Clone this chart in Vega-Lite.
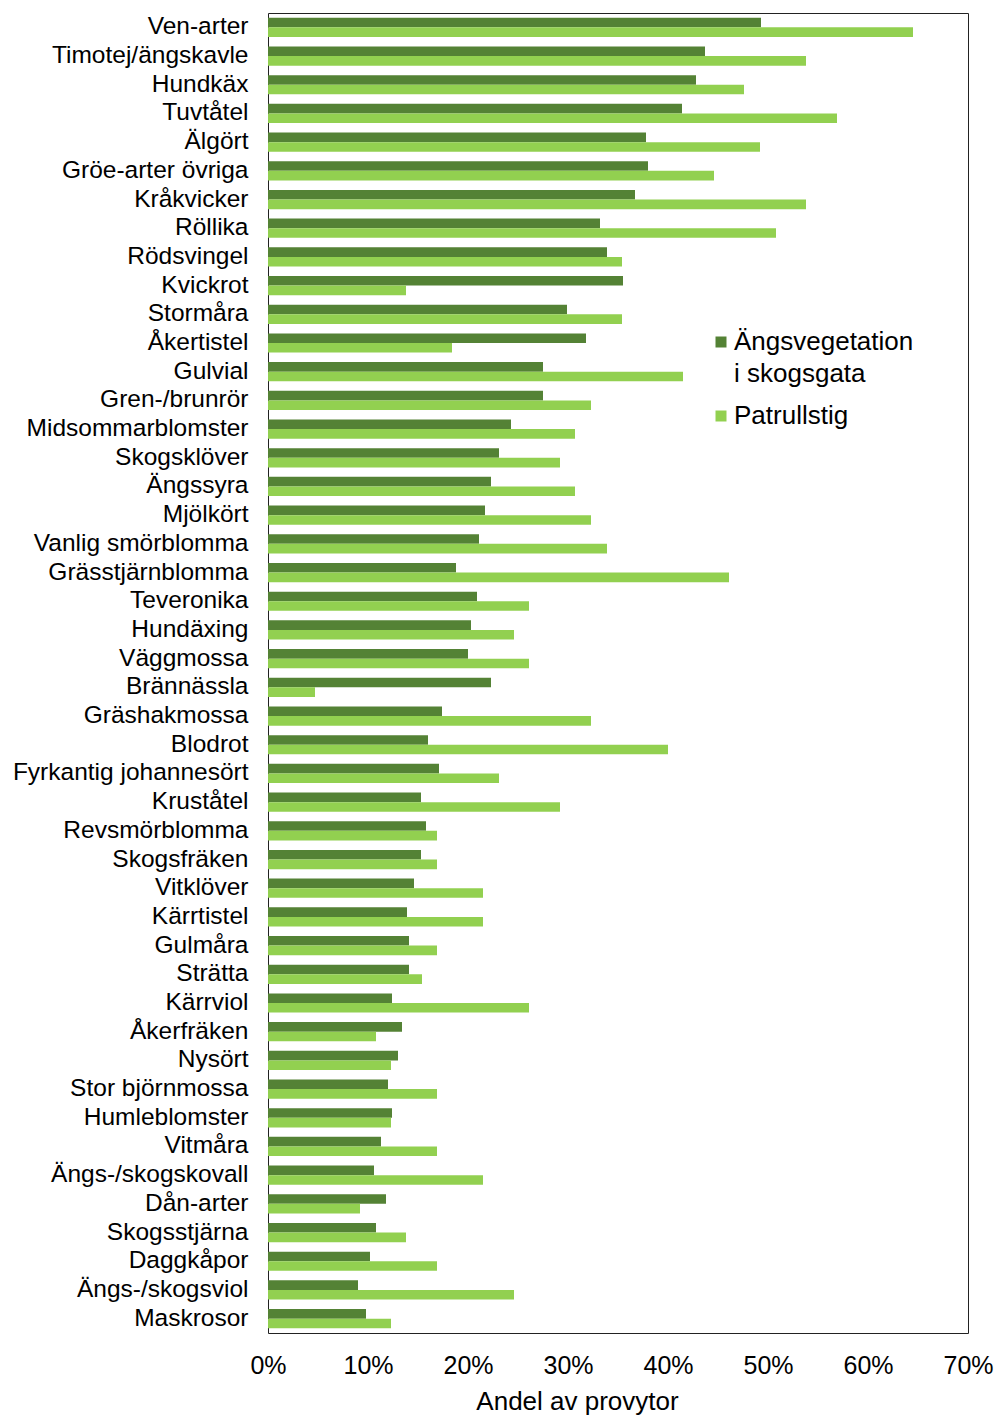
{
  "$schema": "https://vega.github.io/schema/vega-lite/v6.json",
  "width": 700,
  "height": 1320,
  "autosize": {"type": "none"},
  "padding": {"left": 268, "top": 13, "right": 29, "bottom": 85},
  "background": "white",
  "config": {
    "view": {"stroke": "#222222", "strokeWidth": 1},
    "font": "Liberation Sans",
    "style": {"guide-label": {"lineHeight": 32}}
  },
  "data": {
    "values": [
      {"art": "Ven-arter", "serie": "Ängsvegetation i skogsgata", "andel": 49.3},
      {"art": "Ven-arter", "serie": "Patrullstig", "andel": 64.5},
      {"art": "Timotej/ängskavle", "serie": "Ängsvegetation i skogsgata", "andel": 43.7},
      {"art": "Timotej/ängskavle", "serie": "Patrullstig", "andel": 53.8},
      {"art": "Hundkäx", "serie": "Ängsvegetation i skogsgata", "andel": 42.8},
      {"art": "Hundkäx", "serie": "Patrullstig", "andel": 47.6},
      {"art": "Tuvtåtel", "serie": "Ängsvegetation i skogsgata", "andel": 41.4},
      {"art": "Tuvtåtel", "serie": "Patrullstig", "andel": 56.9},
      {"art": "Älgört", "serie": "Ängsvegetation i skogsgata", "andel": 37.8},
      {"art": "Älgört", "serie": "Patrullstig", "andel": 49.2},
      {"art": "Gröe-arter övriga", "serie": "Ängsvegetation i skogsgata", "andel": 38.0},
      {"art": "Gröe-arter övriga", "serie": "Patrullstig", "andel": 44.6},
      {"art": "Kråkvicker", "serie": "Ängsvegetation i skogsgata", "andel": 36.7},
      {"art": "Kråkvicker", "serie": "Patrullstig", "andel": 53.8},
      {"art": "Röllika", "serie": "Ängsvegetation i skogsgata", "andel": 33.2},
      {"art": "Röllika", "serie": "Patrullstig", "andel": 50.8},
      {"art": "Rödsvingel", "serie": "Ängsvegetation i skogsgata", "andel": 33.9},
      {"art": "Rödsvingel", "serie": "Patrullstig", "andel": 35.4},
      {"art": "Kvickrot", "serie": "Ängsvegetation i skogsgata", "andel": 35.5},
      {"art": "Kvickrot", "serie": "Patrullstig", "andel": 13.8},
      {"art": "Stormåra", "serie": "Ängsvegetation i skogsgata", "andel": 29.9},
      {"art": "Stormåra", "serie": "Patrullstig", "andel": 35.4},
      {"art": "Åkertistel", "serie": "Ängsvegetation i skogsgata", "andel": 31.8},
      {"art": "Åkertistel", "serie": "Patrullstig", "andel": 18.4},
      {"art": "Gulvial", "serie": "Ängsvegetation i skogsgata", "andel": 27.5},
      {"art": "Gulvial", "serie": "Patrullstig", "andel": 41.5},
      {"art": "Gren-/brunrör", "serie": "Ängsvegetation i skogsgata", "andel": 27.5},
      {"art": "Gren-/brunrör", "serie": "Patrullstig", "andel": 32.3},
      {"art": "Midsommarblomster", "serie": "Ängsvegetation i skogsgata", "andel": 24.3},
      {"art": "Midsommarblomster", "serie": "Patrullstig", "andel": 30.7},
      {"art": "Skogsklöver", "serie": "Ängsvegetation i skogsgata", "andel": 23.1},
      {"art": "Skogsklöver", "serie": "Patrullstig", "andel": 29.2},
      {"art": "Ängssyra", "serie": "Ängsvegetation i skogsgata", "andel": 22.3},
      {"art": "Ängssyra", "serie": "Patrullstig", "andel": 30.7},
      {"art": "Mjölkört", "serie": "Ängsvegetation i skogsgata", "andel": 21.7},
      {"art": "Mjölkört", "serie": "Patrullstig", "andel": 32.3},
      {"art": "Vanlig smörblomma", "serie": "Ängsvegetation i skogsgata", "andel": 21.1},
      {"art": "Vanlig smörblomma", "serie": "Patrullstig", "andel": 33.9},
      {"art": "Grässtjärnblomma", "serie": "Ängsvegetation i skogsgata", "andel": 18.8},
      {"art": "Grässtjärnblomma", "serie": "Patrullstig", "andel": 46.1},
      {"art": "Teveronika", "serie": "Ängsvegetation i skogsgata", "andel": 20.9},
      {"art": "Teveronika", "serie": "Patrullstig", "andel": 26.1},
      {"art": "Hundäxing", "serie": "Ängsvegetation i skogsgata", "andel": 20.3},
      {"art": "Hundäxing", "serie": "Patrullstig", "andel": 24.6},
      {"art": "Väggmossa", "serie": "Ängsvegetation i skogsgata", "andel": 20.0},
      {"art": "Väggmossa", "serie": "Patrullstig", "andel": 26.1},
      {"art": "Brännässla", "serie": "Ängsvegetation i skogsgata", "andel": 22.3},
      {"art": "Brännässla", "serie": "Patrullstig", "andel": 4.7},
      {"art": "Gräshakmossa", "serie": "Ängsvegetation i skogsgata", "andel": 17.4},
      {"art": "Gräshakmossa", "serie": "Patrullstig", "andel": 32.3},
      {"art": "Blodrot", "serie": "Ängsvegetation i skogsgata", "andel": 16.0},
      {"art": "Blodrot", "serie": "Patrullstig", "andel": 40.0},
      {"art": "Fyrkantig johannesört", "serie": "Ängsvegetation i skogsgata", "andel": 17.1},
      {"art": "Fyrkantig johannesört", "serie": "Patrullstig", "andel": 23.1},
      {"art": "Kruståtel", "serie": "Ängsvegetation i skogsgata", "andel": 15.3},
      {"art": "Kruståtel", "serie": "Patrullstig", "andel": 29.2},
      {"art": "Revsmörblomma", "serie": "Ängsvegetation i skogsgata", "andel": 15.8},
      {"art": "Revsmörblomma", "serie": "Patrullstig", "andel": 16.9},
      {"art": "Skogsfräken", "serie": "Ängsvegetation i skogsgata", "andel": 15.3},
      {"art": "Skogsfräken", "serie": "Patrullstig", "andel": 16.9},
      {"art": "Vitklöver", "serie": "Ängsvegetation i skogsgata", "andel": 14.6},
      {"art": "Vitklöver", "serie": "Patrullstig", "andel": 21.5},
      {"art": "Kärrtistel", "serie": "Ängsvegetation i skogsgata", "andel": 13.9},
      {"art": "Kärrtistel", "serie": "Patrullstig", "andel": 21.5},
      {"art": "Gulmåra", "serie": "Ängsvegetation i skogsgata", "andel": 14.1},
      {"art": "Gulmåra", "serie": "Patrullstig", "andel": 16.9},
      {"art": "Strätta", "serie": "Ängsvegetation i skogsgata", "andel": 14.1},
      {"art": "Strätta", "serie": "Patrullstig", "andel": 15.4},
      {"art": "Kärrviol", "serie": "Ängsvegetation i skogsgata", "andel": 12.4},
      {"art": "Kärrviol", "serie": "Patrullstig", "andel": 26.1},
      {"art": "Åkerfräken", "serie": "Ängsvegetation i skogsgata", "andel": 13.4},
      {"art": "Åkerfräken", "serie": "Patrullstig", "andel": 10.8},
      {"art": "Nysört", "serie": "Ängsvegetation i skogsgata", "andel": 13.0},
      {"art": "Nysört", "serie": "Patrullstig", "andel": 12.3},
      {"art": "Stor björnmossa", "serie": "Ängsvegetation i skogsgata", "andel": 12.0},
      {"art": "Stor björnmossa", "serie": "Patrullstig", "andel": 16.9},
      {"art": "Humleblomster", "serie": "Ängsvegetation i skogsgata", "andel": 12.4},
      {"art": "Humleblomster", "serie": "Patrullstig", "andel": 12.3},
      {"art": "Vitmåra", "serie": "Ängsvegetation i skogsgata", "andel": 11.3},
      {"art": "Vitmåra", "serie": "Patrullstig", "andel": 16.9},
      {"art": "Ängs-/skogskovall", "serie": "Ängsvegetation i skogsgata", "andel": 10.6},
      {"art": "Ängs-/skogskovall", "serie": "Patrullstig", "andel": 21.5},
      {"art": "Dån-arter", "serie": "Ängsvegetation i skogsgata", "andel": 11.8},
      {"art": "Dån-arter", "serie": "Patrullstig", "andel": 9.2},
      {"art": "Skogsstjärna", "serie": "Ängsvegetation i skogsgata", "andel": 10.8},
      {"art": "Skogsstjärna", "serie": "Patrullstig", "andel": 13.8},
      {"art": "Daggkåpor", "serie": "Ängsvegetation i skogsgata", "andel": 10.2},
      {"art": "Daggkåpor", "serie": "Patrullstig", "andel": 16.9},
      {"art": "Ängs-/skogsviol", "serie": "Ängsvegetation i skogsgata", "andel": 9.0},
      {"art": "Ängs-/skogsviol", "serie": "Patrullstig", "andel": 24.6},
      {"art": "Maskrosor", "serie": "Ängsvegetation i skogsgata", "andel": 9.8},
      {"art": "Maskrosor", "serie": "Patrullstig", "andel": 12.3}
    ]
  },
  "mark": {"type": "bar"},
  "encoding": {
    "y": {
      "field": "art",
      "type": "nominal",
      "sort": null,
      "scale": {"paddingInner": 0.33, "paddingOuter": 0.165},
      "axis": {
        "title": null,
        "ticks": false,
        "domain": false,
        "labelFontSize": 24.5,
        "labelPadding": 20,
        "labelColor": "#000000",
        "labelLimit": 400
      }
    },
    "yOffset": {
      "field": "serie",
      "type": "nominal",
      "sort": ["Ängsvegetation i skogsgata", "Patrullstig"]
    },
    "x": {
      "field": "andel",
      "type": "quantitative",
      "scale": {"domain": [0, 70]},
      "axis": {
        "values": [0, 10, 20, 30, 40, 50, 60, 70],
        "labelExpr": "datum.value + '%'",
        "labelFlush": false,
        "grid": false,
        "ticks": false,
        "domain": false,
        "labelFontSize": 25,
        "labelPadding": 20,
        "labelColor": "#000000",
        "title": "Andel av provytor",
        "titleFontSize": 26,
        "titleFontWeight": "normal",
        "titleColor": "#000000",
        "titlePadding": 10,
        "titleX": 309
      }
    },
    "color": {
      "field": "serie",
      "type": "nominal",
      "scale": {
        "domain": ["Ängsvegetation i skogsgata", "Patrullstig"],
        "range": ["#548235", "#92D050"]
      },
      "legend": {
        "title": null,
        "orient": "none",
        "legendX": 440,
        "legendY": 316,
        "symbolType": "square",
        "symbolSize": 121,
        "symbolStrokeWidth": 0,
        "labelFontSize": 26,
        "labelColor": "#000000",
        "labelOffset": 0,
        "labelLimit": 400,
        "rowPadding": 16,
        "labelExpr": "datum.label == 'Ängsvegetation i skogsgata' ? ['Ängsvegetation', ' i skogsgata'] : datum.label"
      }
    }
  }
}
